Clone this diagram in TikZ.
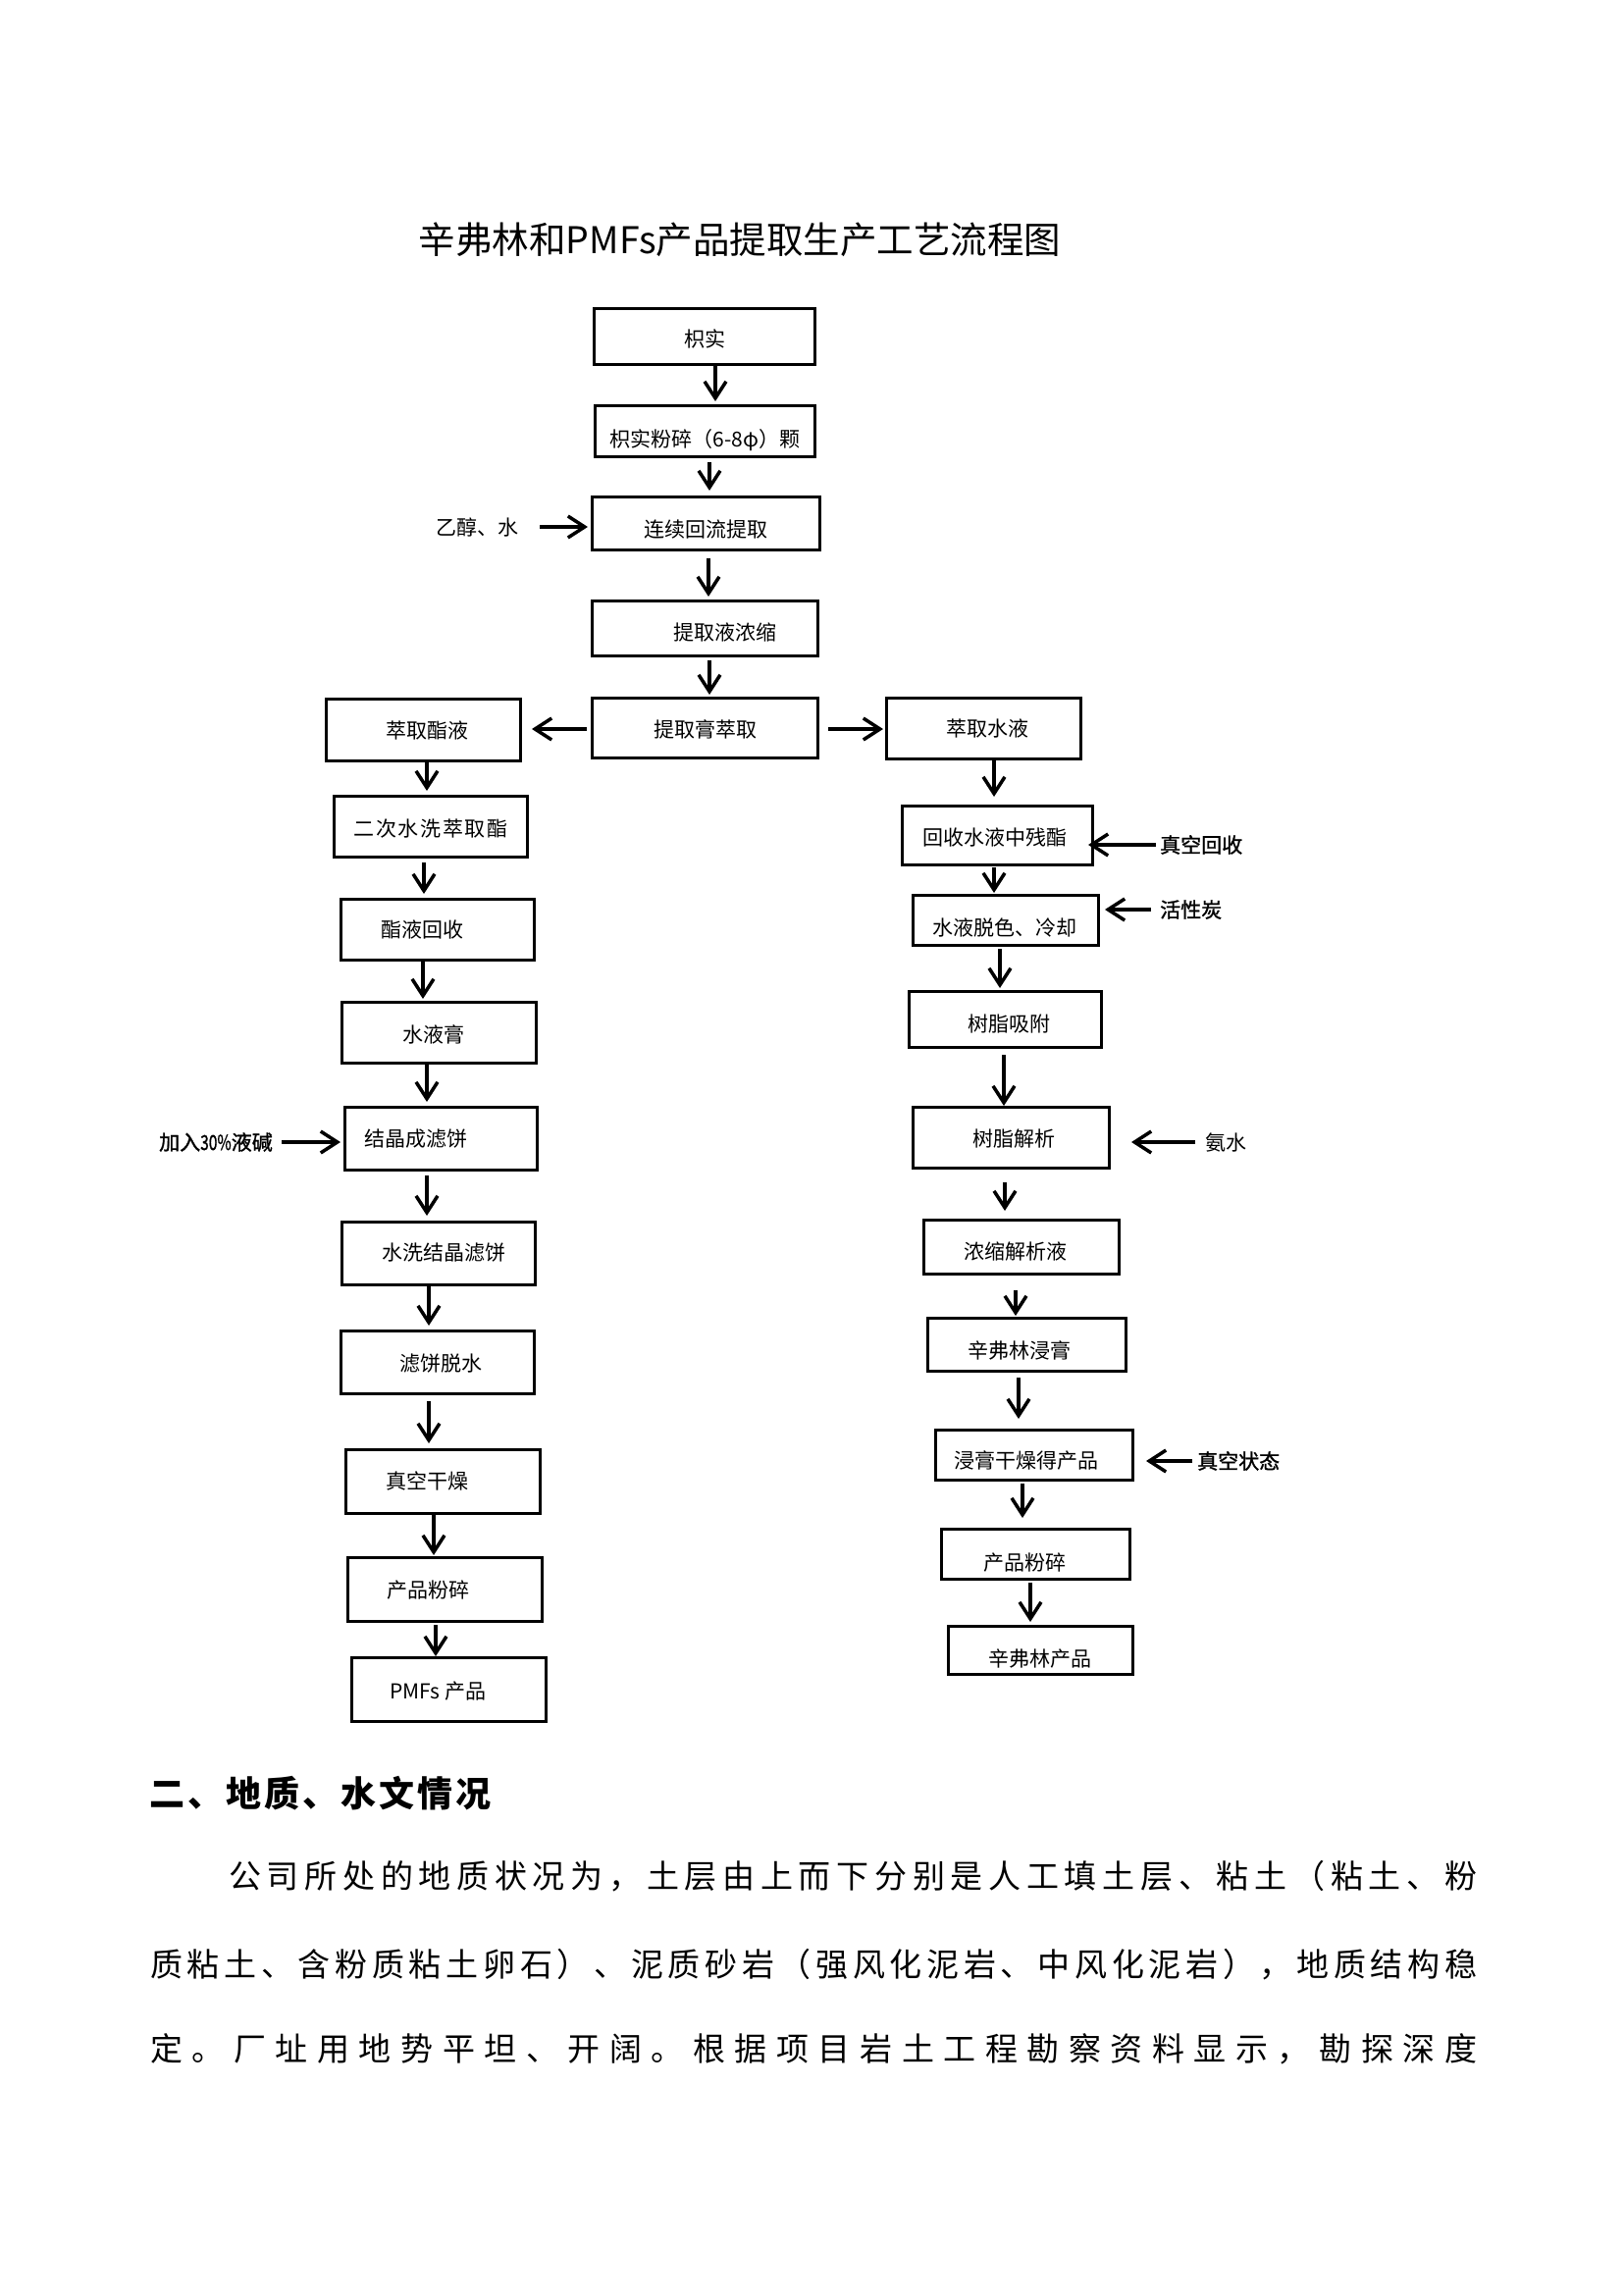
\documentclass[tikz,border=0pt]{standalone}
\usepackage{fontspec}
\setmainfont{Noto Sans CJK SC}
\newfontfamily\lblbold{Noto Sans CJK SC}[FakeBold=1.2]
\usepackage{graphicx}
\usetikzlibrary{arrows.meta}
\def\spreadA#1{\ifx\relax#1\else#1\expandafter\spreadB\fi}
\def\spreadB#1{\ifx\relax#1\else\hfill#1\expandafter\spreadB\fi}
\newcommand\spreadto[2]{\hbox to #1{\spreadA#2\relax}}
\newcommand\boxfont{\fontsize{21pt}{25pt}\selectfont}
\newcommand\titlefont{\fontsize{37.5pt}{42pt}\selectfont}
\newcommand\headfont{\fontsize{36pt}{40pt}\selectfont\bfseries}
\newcommand\bodyfont{\fontsize{33pt}{40pt}\selectfont}
\tikzset{
  box/.style={draw, line width=3pt, inner sep=0pt, font=\boxfont, text depth=2pt, text height=18pt},
  tshift/.style={execute at begin node={\hspace*{#1pt}}},
  arr/.style={line width=3.5pt, -{Straight Barb[length=17pt,width=22pt]}},
  lbl/.style={inner sep=0pt, font=\boxfont, text depth=2pt, text height=18pt, anchor=west},
  lblb/.style={lbl, font=\boxfont\lblbold},
}
\begin{document}
\begin{tikzpicture}[x=1pt,y=-1pt]
\useasboundingbox[fill=white] (0,0) rectangle (1654,2339);
% title
\node[inner sep=0pt, anchor=base, font=\titlefont] (title) at (754,258) {辛弗林和PMFs产品提取生产工艺流程图};
% top column
\node[box, minimum width=225pt, minimum height=57pt, text height=22pt] (A) at (718,343) {枳实};
\node[box, minimum width=224pt, minimum height=52pt, text height=34pt] (B) at (718.5,439.5) {枳实粉碎（6-8φ）颗};
\node[box, minimum width=232pt, minimum height=54pt, text height=30pt] (C) at (719.5,533.5) {连续回流提取};
\node[box, minimum width=230pt, minimum height=56pt, text height=26pt, tshift=40] (D) at (718.5,640.5) {提取液浓缩};
\node[box, minimum width=230pt, minimum height=61pt, text height=20pt] (E) at (718.5,742) {提取膏萃取};
% left column
\node[box, minimum width=198pt, minimum height=63pt, tshift=8] (L1) at (431.5,744) {萃取酯液};
\node[box, minimum width=197pt, minimum height=62pt, text height=22pt] (L2) at (439,842.5) {\spreadto{157pt}{二次水洗萃取酯}};
\node[box, minimum width=197pt, minimum height=62pt, tshift=-32] (L3) at (446,947.5) {酯液回收};
\node[box, minimum width=198pt, minimum height=62pt, text height=22pt, tshift=-12] (L4) at (447.5,1052.5) {水液膏};
\node[box, minimum width=196pt, minimum height=64pt, tshift=-52] (L5) at (449.5,1160.5) {结晶成滤饼};
\node[box, minimum width=197pt, minimum height=64pt, text height=16pt, tshift=10] (L6) at (447,1277.5) {水洗结晶滤饼};
\node[box, minimum width=197pt, minimum height=64pt, text height=20pt, tshift=6] (L7) at (446,1388.5) {滤饼脱水};
\node[box, minimum width=198pt, minimum height=65pt, text height=16pt, tshift=-32] (L8) at (451.5,1510) {真空干燥};
\node[box, minimum width=198pt, minimum height=65pt, tshift=-34] (L9) at (453.5,1620) {产品粉碎};
\node[box, minimum width=198pt, minimum height=65pt, text height=20pt, tshift=-22] (L10) at (457.5,1722) {PMFs 产品};
% right column
\node[box, minimum width=198pt, minimum height=62pt, tshift=8] (R1) at (1002.5,742.5) {萃取水液};
\node[box, minimum width=194pt, minimum height=60pt, text height=22pt, tshift=-6] (R2) at (1016.5,851.5) {回收水液中残酯};
\node[box, minimum width=189pt, minimum height=51pt, text height=32pt, tshift=-2] (R3) at (1025,938) {水液脱色、冷却};
\node[box, minimum width=196pt, minimum height=57pt, text height=26pt, tshift=8] (R4) at (1024.5,1039) {树脂吸附};
\node[box, minimum width=200pt, minimum height=62pt, text height=20pt, tshift=6] (R5) at (1030.5,1159.5) {树脂解析};
\node[box, minimum width=199pt, minimum height=55pt, text height=26pt, tshift=-12] (R6) at (1041,1271) {浓缩解析液};
\node[box, minimum width=202pt, minimum height=54pt, text height=30pt, tshift=-16] (R7) at (1046.5,1370.5) {辛弗林浸膏};
\node[box, minimum width=201pt, minimum height=51pt, text height=28pt, tshift=-16] (R8) at (1054,1483) {浸膏干燥得产品};
\node[box, minimum width=192pt, minimum height=51pt, text height=34pt, tshift=-22] (R9) at (1055.5,1584) {产品粉碎};
\node[box, minimum width=188pt, minimum height=49pt, text height=34pt, tshift=-2] (R10) at (1060.5,1682) {辛弗林产品};
% side labels
\node[lbl] (etoh) at (444,537) {乙醇、水};
\node[lblb] (jian) at (162,1164) {加入{\scalebox{0.74}[1]{30\%}}液碱};
\node[lblb] (zkhs) at (1182,861) {真空回收};
\node[lblb] (hxt) at (1182,927) {活性炭};
\node[lbl] (as) at (1228,1164) {氨水};
\node[lblb] (zkzt) at (1220,1489) {真空状态};
% main arrows
\draw[arr, shorten >=3pt] (A.south -| 729,0) -- (B.north -| 729,0);
\draw[arr, shorten <=4pt, shorten >=5pt] (B.south -| 723,0) -- (C.north -| 723,0);
\draw[arr, shorten <=7pt, shorten >=3pt] (C.south -| 722,0) -- (D.north -| 722,0);
\draw[arr, shorten <=3pt, shorten >=2pt] (D.south -| 723,0) -- (E.north -| 723,0);
\draw[arr, shorten <=4pt, shorten >=10pt] (E.west |- 0,743) -- (L1.east |- 0,743);
\draw[arr, shorten <=9pt, shorten >=2pt] (E.east |- 0,743) -- (R1.west |- 0,743);
\draw[arr, shorten >=4pt] (L1.south -| 435,0) -- (L2.north -| 435,0);
\draw[arr, shorten <=4pt, shorten >=4pt] (L2.south -| 432,0) -- (L3.north -| 432,0);
\draw[arr, shorten >=2pt] (L3.south -| 431,0) -- (L4.north -| 431,0);
\draw[arr, shorten >=4pt] (L4.south -| 435,0) -- (L5.north -| 435,0);
\draw[arr, shorten <=4pt, shorten >=5pt] (L5.south -| 435,0) -- (L6.north -| 435,0);
\draw[arr, shorten >=4pt] (L6.south -| 437,0) -- (L7.north -| 437,0);
\draw[arr, shorten <=6pt, shorten >=5pt] (L7.south -| 437,0) -- (L8.north -| 437,0);
\draw[arr, shorten >=1pt] (L8.south -| 442,0) -- (L9.north -| 442,0);
\draw[arr, shorten <=2pt] (L9.south -| 444,0) -- (L10.north -| 444,0);
\draw[arr, shorten >=8pt] (R1.south -| 1013,0) -- (R2.north -| 1013,0);
\draw[arr, shorten <=1pt, shorten >=1pt] (R2.south -| 1013,0) -- (R3.north -| 1013,0);
\draw[arr, shorten <=2pt, shorten >=2pt] (R3.south -| 1019,0) -- (R4.north -| 1019,0);
\draw[arr, shorten <=6pt] (R4.south -| 1023,0) -- (R5.north -| 1023,0);
\draw[arr, shorten <=13pt, shorten >=8pt] (R5.south -| 1024,0) -- (R6.north -| 1024,0);
\draw[arr, shorten <=15pt, shorten >=1pt] (R6.south -| 1035,0) -- (R7.north -| 1035,0);
\draw[arr, shorten <=5pt, shorten >=10pt] (R7.south -| 1038,0) -- (R8.north -| 1038,0);
\draw[arr, shorten <=2pt, shorten >=10pt] (R8.south -| 1042,0) -- (R9.north -| 1042,0);
\draw[arr, shorten <=2pt, shorten >=3pt] (R9.south -| 1050,0) -- (R10.north -| 1050,0);
% side arrows
\draw[arr, shorten <=22pt, shorten >=3pt] (etoh.east) -- (etoh.east -| C.west);
\draw[arr, shorten <=9pt, shorten >=3pt] (jian.east) -- (jian.east -| L5.west);
\draw[arr, shorten <=4pt, shorten >=-6pt] (zkhs.west) -- (zkhs.west -| R2.east);
\draw[arr, shorten <=9pt, shorten >=5pt] (hxt.west) -- (hxt.west -| R3.east);
\draw[arr, shorten <=10pt, shorten >=21pt] (as.west) -- (as.west -| R5.east);
\draw[arr, shorten <=5pt, shorten >=12pt] (zkzt.west) -- (zkzt.west -| R8.east);
% heading and body text
\node[inner sep=0pt, anchor=base west, font=\headfont] (head) at (152,1841) {\spreadto{348pt}{二、地质、水文情况}};
\node[inner sep=0pt, anchor=base west, font=\bodyfont] (p1) at (233,1924.5) {\spreadto{1272pt}{公司所处的地质状况为，土层由上而下分别是人工填土层、粘土（粘土、粉}};
\node[inner sep=0pt, anchor=base west, font=\bodyfont] (p2) at (153,2014.5) {\spreadto{1352pt}{质粘土、含粉质粘土卵石）、泥质砂岩（强风化泥岩、中风化泥岩），地质结构稳}};
\node[inner sep=0pt, anchor=base west, font=\bodyfont] (p3) at (153,2100.5) {\spreadto{1352pt}{定。厂址用地势平坦、开阔。根据项目岩土工程勘察资料显示，勘探深度}};
\end{tikzpicture}
\end{document}
